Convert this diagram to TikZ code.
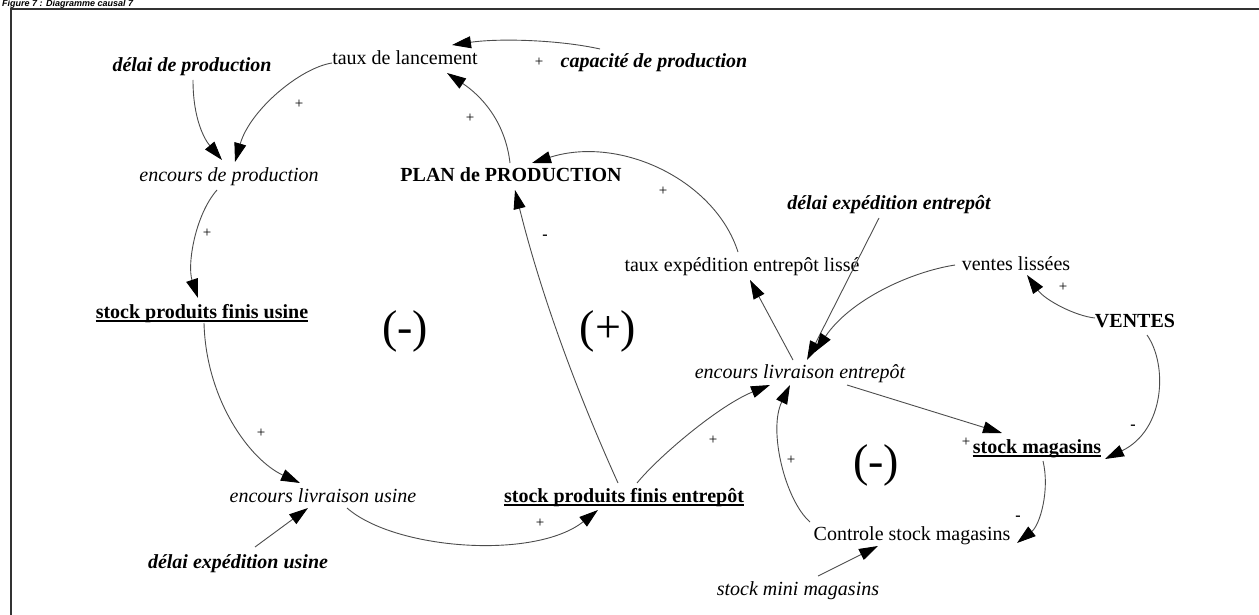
\documentclass[tikz,border=0pt]{standalone}
\usepackage{fontspec}
\setmainfont{Liberation Serif}
\newfontfamily\capfont{Liberation Sans}
\usetikzlibrary{arrows.meta}
\begin{document}
\begin{tikzpicture}[x=1pt,y=-1pt,
 lbl/.style={inner sep=0pt,text height=14pt,text depth=4pt,font=\fontsize{20}{24}\selectfont},
 it/.style={lbl,font=\fontsize{20}{24}\selectfont\itshape},
 bi/.style={lbl,font=\fontsize{20}{24}\selectfont\bfseries\itshape},
 bf/.style={lbl,font=\fontsize{20}{24}\selectfont\bfseries},
 loopsign/.style={inner sep=0pt,font=\fontsize{46}{50}\selectfont},
 sgn/.style={inner sep=0pt,font=\fontsize{15}{17}\selectfont},
 neg/.style={inner sep=0pt,font=\fontsize{16}{18}\selectfont\bfseries},
 arr/.style={draw=black!70,line width=0.9pt,-{Triangle[length=19pt,width=12pt,color=black]}},
 ul/.style={line width=1.3pt},
 frame/.style={draw=black!80,line width=1.4pt}]
\useasboundingbox (0,0) rectangle (1259,615);
\clip (0,0) rectangle (1259,615);
% caption and frame
\node[anchor=base west,inner sep=0pt,font=\capfont\fontsize{9}{10}\selectfont\bfseries\itshape] (cap) at (2,7) {Figure 7 : Diagramme causal 7};
\draw[frame] (11,615) -- (11,9) -- (1259,9);
% nodes
\node[bi] (dp) at (192,67) {délai de production};
\node[lbl] (tl) at (405,60) {taux de lancement};
\node[bi] (cp) at (654,63) {capacité de production};
\node[it] (ep) at (229,177) {encours de production};
\node[bf] (plan) at (511,177) {PLAN de PRODUCTION};
\node[bi] (dee) at (889,205) {délai expédition entrepôt};
\node[lbl] (tel) at (742,266) {taux expédition entrepôt lissé};
\node[lbl] (vl) at (1016,265) {ventes lissées};
\node[bf] (ventes) at (1135,322) {VENTES};
\node[bf] (spfu) at (202,313) {stock produits finis usine};
\node[it] (elen) at (800,373) {encours livraison entrepôt};
\node[it] (elu) at (323,497) {encours livraison usine};
\node[bf] (spfe) at (624,497) {stock produits finis entrepôt};
\node[bf] (sm) at (1037,448) {stock magasins};
\node[bi] (deu) at (238,563) {délai expédition usine};
\node[lbl] (csm) at (912,535) {Controle stock magasins};
\node[it] (smm) at (798,590) {stock mini magasins};
% underlines
\foreach \n in {spfu,spfe,sm}
  \draw[ul] ([yshift=-3pt]\n.base west) -- ([yshift=-3pt]\n.base east);
% loop polarities
\node[loopsign] (l1) at (405,331) {(-)};
\node[loopsign] (l2) at (608,331) {(+)};
\node[loopsign] (l3) at (876,465) {(-)};
% connectors
\draw[arr] ([shift={(1,13)}]dp.center) .. controls (193,120) and (205,140) .. ([shift={(-7,-17)}]ep.center);
\draw[arr] ([shift={(-73,3)}]tl.center) .. controls (300,68) and (250,110) .. ([shift={(6,-15)}]ep.center);
\draw[arr] ([shift={(-54,-14)}]cp.center) .. controls (560,40) and (500,38) .. ([shift={(47,-15)}]tl.center);
\draw[arr] ([shift={(-1,-14)}]plan.center) .. controls (505,120) and (480,95) .. ([shift={(42,13)}]tl.center);
\draw[arr] ([shift={(-4,-14)}]tel.center) .. controls (715,180) and (620,135) .. ([shift={(21,-14)}]plan.center);
\draw[arr] ([shift={(-6,-14)}]spfe.center) .. controls (575,388) and (540,291) .. ([shift={(4,13)}]plan.center);
\draw[arr] ([shift={(-12,13)}]ep.center) .. controls (195,215) and (187,265) .. ([shift={(-4,-15)}]spfu.center);
\draw[arr] ([shift={(2,10)}]spfu.center) .. controls (206,400) and (250,460) .. ([shift={(-23,-14)}]elu.center);
\draw[arr] ([shift={(17,-16)}]deu.center) -- ([shift={(-15,11)}]elu.center);
\draw[arr] ([shift={(24,11)}]elu.center) .. controls (395,550) and (535,560) .. ([shift={(-26,13)}]spfe.center);
\draw[arr] ([shift={(13,-14)}]spfe.center) .. controls (660,455) and (720,405) .. ([shift={(-30,12)}]elen.center);
\draw[arr] ([shift={(-102,-13)}]csm.center) .. controls (785,500) and (768,430) .. ([shift={(-10,12)}]elen.center);
\draw[arr] ([shift={(20,-14)}]smm.center) -- ([shift={(-34,11)}]csm.center);
\draw[arr] ([shift={(-7,-13)}]elen.center) -- ([shift={(8,14)}]tel.center);
\draw[arr] ([shift={(-10,13)}]dee.center) -- ([shift={(7,-13)}]elen.center);
\draw[arr] ([shift={(-61,0)}]vl.center) .. controls (910,272) and (850,300) .. ([shift={(15,-21)}]elen.center);
\draw[arr] ([shift={(-40,-4)}]ventes.center) .. controls (1075,316) and (1045,300) .. ([shift={(11,10)}]vl.center);
\draw[arr] ([shift={(12,13)}]ventes.center) .. controls (1168,365) and (1165,430) .. ([shift={(68,11)}]sm.center);
\draw[arr] ([shift={(47,12)}]elen.center) -- ([shift={(-35,-15)}]sm.center);
\draw[arr] ([shift={(6,13)}]sm.center) .. controls (1050,490) and (1040,525) .. ([shift={(105,8)}]csm.center);
% link signs
\node[sgn] (s1) at (299,104) {+};
\node[sgn] (s2) at (539,62) {+};
\node[sgn] (s3) at (470,118) {+};
\node[sgn] (s4) at (663,191) {+};
\node[neg] (s5) at (545,237) {-};
\node[sgn] (s6) at (207,233) {+};
\node[sgn] (s7) at (261,433) {+};
\node[sgn] (s8) at (540,523) {+};
\node[sgn] (s9) at (713,440) {+};
\node[sgn] (s10) at (791,460) {+};
\node[sgn] (s11) at (1063,287) {+};
\node[neg] (s12) at (1133,427) {-};
\node[sgn] (s13) at (966,442) {+};
\node[neg] (s14) at (1018,518) {-};
\end{tikzpicture}
\end{document}
